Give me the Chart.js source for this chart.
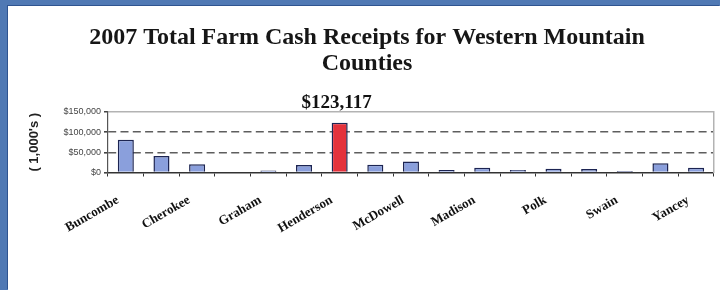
<!DOCTYPE html>
<html>
<head>
<meta charset="utf-8">
<script src="https://cdn.jsdelivr.net/npm/chart.js@4/dist/chart.umd.min.js"></script>
<style>
  html, body { margin: 0; padding: 0; }
  body { width: 720px; height: 290px; background: #5079b4; position: relative; overflow: hidden; }
  #panel { position: absolute; left: 8px; top: 6px; width: 712px; height: 284px; background: #ffffff;
           box-shadow: -1px -1px 0 #2f5490; }
  #panel canvas { display: block; }
</style>
</head>
<body>
<div id="panel"><canvas id="c" width="712" height="284"></canvas></div>
<script>
// ---- data ----
const titleLines = ['2007 Total Farm Cash Receipts for Western Mountain', 'Counties'];
const yAxisTitle = "( 1,000's )";
// 17 county slots; Excel shows only every other name
const counties = ['Buncombe', '', 'Cherokee', '', 'Graham', '', 'Henderson', '', 'McDowell', '', 'Madison', '', 'Polk', '', 'Swain', '', 'Yancey'];
const receipts = [81000, 41000, 20500, null, 5000, 18750, 123117, 19000, 27000, 6000, 12000, 6500, 9000, 8500, 3500, 23000, 11500];
const yTicks = [0, 50000, 100000, 150000];

const BLUE = '#8a9fdc';
const RED = '#e4323c';
const maxVal = Math.max(...receipts.filter(v => v !== null));
const fillColors = receipts.map(v => v === maxVal ? RED : BLUE);

const fmt = v => '$' + Number(v).toLocaleString('en-US');

const valueLabel = {
  id: 'valueLabel',
  afterDatasetsDraw(chart) {
    const meta = chart.getDatasetMeta(0);
    const idx = receipts.indexOf(maxVal);
    const bar = meta.data[idx];
    const ctx = chart.ctx;
    ctx.save();
    ctx.font = 'bold 19px "Liberation Serif", serif';
    ctx.fillStyle = '#111';
    ctx.textAlign = 'center';
    ctx.textBaseline = 'alphabetic';
    ctx.fillText(fmt(maxVal), bar.x - 3, chart.chartArea.top - 4);
    ctx.restore();
  }
};

new Chart(document.getElementById('c'), {
  type: 'bar',
  data: {
    labels: counties,
    datasets: [{
      data: receipts,
      backgroundColor: fillColors,
      borderColor: '#1c2452',
      borderWidth: 1.5,
      borderSkipped: 'start',
      barPercentage: 0.45,
      categoryPercentage: 1.0
    }]
  },
  options: {
    responsive: false,
    animation: false,
    layout: { padding: { left: 10, right: 4, top: 0, bottom: 0 } },
    plugins: {
      legend: { display: false },
      tooltip: { enabled: false },
      title: {
        display: true,
        text: titleLines,
        color: '#161616',
        font: { family: '"Liberation Serif", serif', size: 24, weight: 'bold', lineHeight: 1.083 },
        padding: { top: 19, bottom: 35 }
      }
    },
    scales: {
      x: {
        offset: true,
        grid: { display: true, drawOnChartArea: false, drawTicks: true, tickLength: 4, tickColor: '#333', offset: true },
        border: { display: true, color: '#333', width: 1.5 },
        ticks: {
          autoSkip: false,
          maxRotation: 30,
          minRotation: 30,
          labelOffset: -8,
          padding: 16,
          color: '#111',
          font: { family: '"Liberation Serif", serif', size: 13, weight: 'bold' }
        },
        afterFit(scale) { scale.height = 117.5; }
      },
      y: {
        min: 0,
        max: 150000,
        afterBuildTicks(scale) { scale.ticks = yTicks.map(v => ({ value: v })); },
        grid: {
          drawTicks: true,
          tickLength: 4,
          tickColor: '#444',
          color: c => (c.tick && c.tick.value === 150000) ? '#b3b3b3' : (c.tick && c.tick.value === 0 ? 'rgba(0,0,0,0)' : '#5e5e5e'),
          lineWidth: c => (c.tick && c.tick.value === 150000) ? 1.5 : 1.6
        },
        border: {
          display: true,
          color: '#555',
          width: 1.2,
          dash: c => (c.tick && (c.tick.value === 50000 || c.tick.value === 100000)) ? [8, 4.3] : []
        },
        ticks: {
          padding: 3,
          color: '#444',
          font: { family: '"Liberation Sans", Arial, sans-serif', size: 9 },
          callback: v => fmt(v)
        },
        title: {
          display: true,
          text: yAxisTitle,
          color: '#222',
          font: { family: '"Liberation Sans", Arial, sans-serif', size: 13, weight: 'bold' },
          padding: { top: 9, bottom: 0 }
        },
        afterFit(scale) { scale.width = 90; }
      },
      y2: {
        position: 'right',
        min: 0,
        max: 150000,
        grid: { display: false, drawTicks: false },
        border: { display: true, color: '#b3b3b3', width: 1.5 },
        ticks: { display: false },
        afterFit(scale) { scale.width = 0; }
      }
    }
  },
  plugins: [valueLabel]
});
</script>
</body>
</html>
